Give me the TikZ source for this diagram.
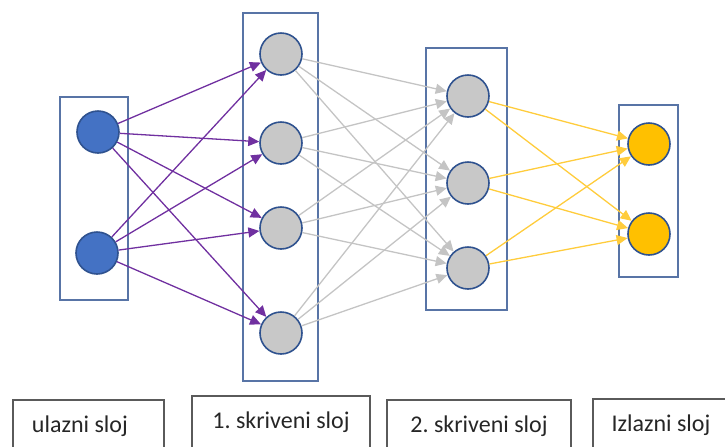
\documentclass[tikz,border=0pt]{standalone}
\usepackage{fontspec}
\setmainfont{Carlito}
\usepackage{tikz}
\usetikzlibrary{shapes.geometric, arrows.meta, positioning}
\frenchspacing

\definecolor{inblue}{RGB}{68,114,196}
\definecolor{rimblue}{RGB}{47,82,143}
\definecolor{boxblue}{RGB}{88,116,166}
\definecolor{hidgray}{RGB}{200,200,200}
\definecolor{outgold}{RGB}{255,192,0}
\definecolor{purpleedge}{RGB}{112,48,160}
\definecolor{grayedge}{RGB}{196,196,196}
\definecolor{goldedge}{RGB}{255,204,60}
\definecolor{labelgray}{RGB}{90,90,90}

\tikzstyle{neuron}     = [circle, minimum size=21pt, inner sep=0pt, draw=rimblue, line width=0.8pt]
\tikzstyle{inputnode}  = [neuron, fill=inblue]
\tikzstyle{hiddennode} = [neuron, fill=hidgray]
\tikzstyle{outputnode} = [neuron, fill=outgold]
\tikzstyle{layerbox}   = [draw=boxblue, line width=1.1pt]
\tikzstyle{labelbox}   = [rectangle, draw=labelgray, line width=0.9pt, inner sep=0pt,
                          text=black!85, font=\fontsize{12}{14}\selectfont]
\tikzstyle{link}       = [line width=0.65pt, -{Triangle[length=5.5pt, width=5pt]}]

\begin{document}
\begin{tikzpicture}[x=0.5pt, y=-0.5pt]

  \clip (0,0) rectangle (725,446);

  % Layer frames
  \draw[layerbox] (60,97)   rectangle (128,300);
  \draw[layerbox] (243,13)  rectangle (318,381);
  \draw[layerbox] (426,48)  rectangle (507,310);
  \draw[layerbox] (619,105) rectangle (678,277);

  % Input layer
  \node (u1) [inputnode] at (98,132) {};
  \node (u2) [inputnode] at (97,253) {};

  % First hidden layer
  \node (a1) [hiddennode] at (281,54)  {};
  \node (a2) [hiddennode] at (281,143) {};
  \node (a3) [hiddennode] at (281,228) {};
  \node (a4) [hiddennode] at (281,333) {};

  % Second hidden layer
  \node (b1) [hiddennode] at (468,96)  {};
  \node (b2) [hiddennode] at (468,183) {};
  \node (b3) [hiddennode] at (468,268) {};

  % Output layer
  \node (o1) [outputnode] at (649,144) {};
  \node (o2) [outputnode] at (649,234) {};

  % Captions
  \node (capu) [labelbox, minimum width=75.5pt, minimum height=26pt,
                text width=56.5pt, align=flush left] at (88.5,426) {ulazni sloj};
  \node (capa) [labelbox, minimum width=89pt,   minimum height=26pt] at (281,422)  {1. skriveni sloj};
  \node (capb) [labelbox, minimum width=92pt,   minimum height=26pt] at (479,426)  {2. skriveni sloj};
  \node (capo) [labelbox, minimum width=68pt,   minimum height=26pt] at (661,425)  {Izlazni sloj};

  % Input -> first hidden
  \draw[link, purpleedge] (u1) -- (a1);
  \draw[link, purpleedge] (u1) -- (a2);
  \draw[link, purpleedge] (u1) -- (a3);
  \draw[link, purpleedge] (u1) -- (a4);
  \draw[link, purpleedge] (u2) -- (a1);
  \draw[link, purpleedge] (u2) -- (a2);
  \draw[link, purpleedge] (u2) -- (a3);
  \draw[link, purpleedge] (u2) -- (a4);

  % First hidden -> second hidden
  \draw[link, grayedge] (a1) -- (b1);
  \draw[link, grayedge] (a1) -- (b2);
  \draw[link, grayedge] (a1) -- (b3);
  \draw[link, grayedge] (a2) -- (b1);
  \draw[link, grayedge] (a2) -- (b2);
  \draw[link, grayedge] (a2) -- (b3);
  \draw[link, grayedge] (a3) -- (b1);
  \draw[link, grayedge] (a3) -- (b2);
  \draw[link, grayedge] (a3) -- (b3);
  \draw[link, grayedge] (a4) -- (b1);
  \draw[link, grayedge] (a4) -- (b2);
  \draw[link, grayedge] (a4) -- (b3);

  % Second hidden -> output
  \draw[link, goldedge] (b1) -- (o1);
  \draw[link, goldedge] (b1) -- (o2);
  \draw[link, goldedge] (b2) -- (o1);
  \draw[link, goldedge] (b2) -- (o2);
  \draw[link, goldedge] (b3) -- (o1);
  \draw[link, goldedge] (b3) -- (o2);

\end{tikzpicture}
\end{document}
